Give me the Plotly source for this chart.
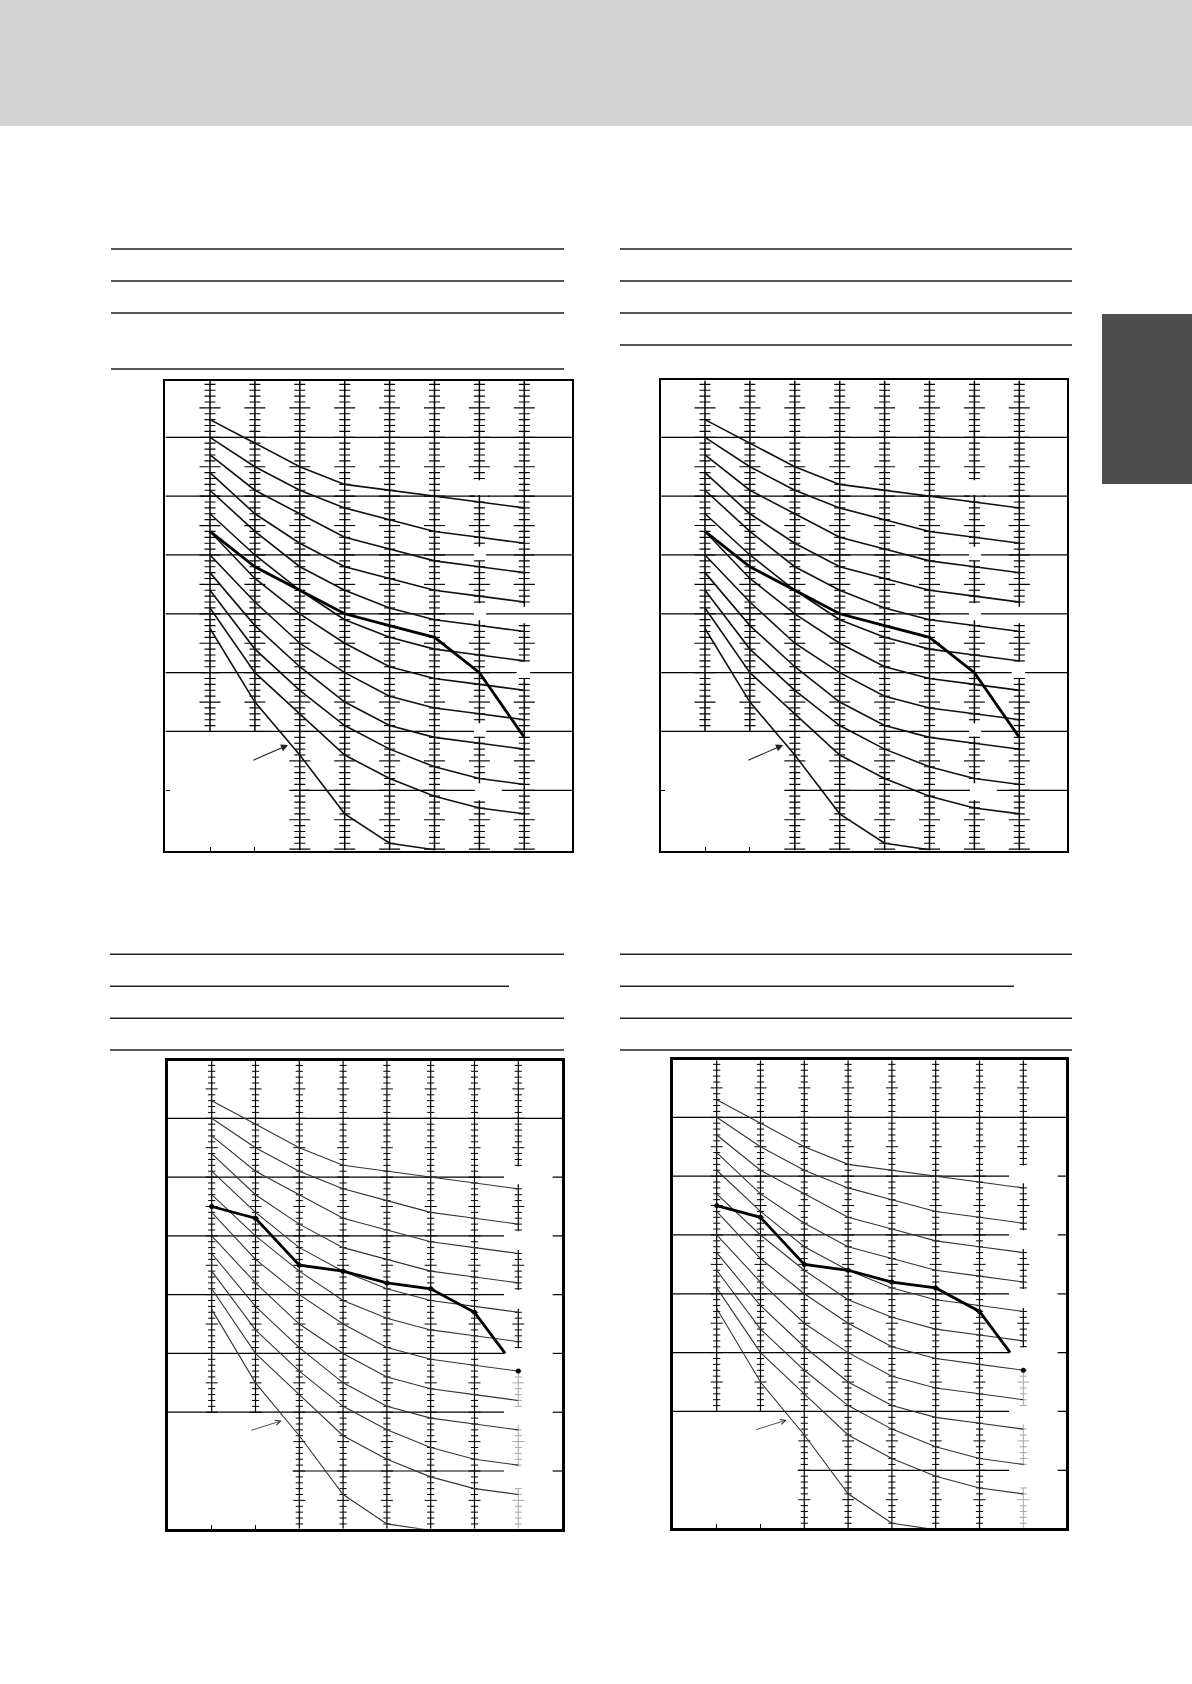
import math
import plotly.graph_objects as go

W, H = 1192, 1684

# ---------------- data ----------------
BAND_LABELS = ["63", "125", "250", "500", "1000", "2000", "4000", "8000"]   # octave band centre (Hz)
BAND_POS = [1, 2, 3, 4, 5, 6, 7, 8]

NC70 = [83, 79, 75, 72, 71, 70, 69, 68]
NC65 = [80, 75, 71, 68, 66, 64, 63, 62]
NC60 = [77, 71, 67, 63, 61, 59, 58, 57]
NC55 = [74, 67, 62, 58, 56, 54, 53, 52]
NC50 = [71, 64, 58, 54, 51, 49, 48, 47]
NC45 = [67, 60, 54, 49, 46, 44, 43, 42]
NC40 = [64, 56, 50, 45, 41, 39, 38, 37]
NC35 = [60, 52, 45, 40, 36, 34, 33, 32]
NC30 = [57, 48, 41, 35, 31, 29, 28, 27]
NC25 = [54, 44, 37, 31, 27, 24, 22, 21]
NC20 = [51, 40, 33, 26, 22, 19, 17, 16]
NC_CURVES = [NC70, NC65, NC60, NC55, NC50, NC45, NC40, NC35, NC30, NC25, NC20]

THRESHOLD = [47.5, 35, 26, 16, 11, 9.9]          # hearing threshold (63 Hz .. 2 kHz)
MEASURED_UPPER = [64, 58, 54, 50, 48, 46, 40, 29]  # thick curve, upper charts
MEASURED_LOWER = [65, 63, 55, 54, 52, 51, 47, 37]  # thick curve, lower charts

GRID_DB = [20, 30, 40, 50, 60, 70, 80]

# ---------------- geometry / styles (pixels of the page) ----------------
PANELS = [
    dict(frame=(164.3, 573.0, 379.5, 851.7), c1=210.0, c8=524.3, g80=437.3, g20=790.3, style="A"),
    dict(frame=(660.0, 1068.3, 379.3, 851.7), c1=705.0, c8=1019.3, g80=437.3, g20=790.3, style="A"),
    dict(frame=(166.7, 563.3, 1059.3, 1530.0), c1=211.7, c8=518.3, g80=1118.3, g20=1471.0, style="B"),
    dict(frame=(671.7, 1067.5, 1059.0, 1529.5), c1=716.7, c8=1023.3, g80=1117.3, g20=1470.3, style="B"),
]

STYLES = {
    "A": dict(frame_w=2.2, grid_w=1.2, ladder_w=1.5, tick_w=1.15, short=5.5, long=10.5,
              curve_w=1.6, curve_c="#111111", thick_w=2.8, markers=False,
              grid_gaps={70: [(6.90, 7.20)], 60: [(6.88, 7.15)], 50: [(6.88, 7.15)],
                         40: [(7.83, 8.13)], 30: [(6.88, 7.15)], 20: [(6.90, 7.50)]},
              grid20_start=2.855,
              ladder_gaps={7: [(70.2, 72.7), (59.0, 61.4), (48.9, 51.8), (29.1, 31.4), (18.3, 21.2)],
                           8: [(39.0, 41.9), (48.4, 51.2)]},
              faded_below=None, yticks=[20],
              arrow=((1.93, 25.0), (2.74, 27.7)), arrowhead=2, arrow_w=1.1),
    "B": dict(frame_w=2.6, grid_w=1.2, ladder_w=1.2, tick_w=1.0, short=3.6, long=6.0,
              curve_w=1.1, curve_c="#333333", thick_w=2.8, markers=True,
              grid_gaps={g: [(7.674, 8.785)] for g in [20, 30, 40, 50, 60, 70]},
              grid20_start=2.85,
              ladder_gaps={8: [(68.8, 71.8), (57.6, 60.8), (47.6, 50.8), (37.2, 40.9),
                               (27.8, 31.0), (17.0, 20.7)]},
              faded_below=37.3, yticks=[],
              arrow=((1.874, 26.85), (2.598, 28.55)), arrowhead=5, arrow_w=0.8),
}

LEFT_RULES = [249, 281, 313, 369]
RIGHT_RULES = [249, 281, 313, 345]
LOWER_RULES = [954.3, 986.3, 1018.3, 1050.0]


def subtract(lo, hi, gaps):
    out = []
    cur = lo
    for a, b in sorted(gaps):
        if b <= cur or a >= hi:
            continue
        if a > cur:
            out.append((cur, a))
        cur = max(cur, b)
    if cur < hi:
        out.append((cur, hi))
    return out


fig = go.Figure()
shapes = []
annotations = []

for i, p in enumerate(PANELS):
    st = STYLES[p["style"]]
    n = "" if i == 0 else str(i + 1)
    xa, ya = "x" + n, "y" + n
    left, right, top, bottom = p["frame"]
    fw = st["frame_w"]
    il, ir, it, ib = left + fw / 2, right - fw / 2, top + fw / 2, bottom - fw / 2
    ppc = (p["c8"] - p["c1"]) / 7.0
    ppd = (p["g20"] - p["g80"]) / 60.0
    xr = [1 + (il - p["c1"]) / ppc, 1 + (ir - p["c1"]) / ppc]
    yr = [80 - (ib - p["g80"]) / ppd, 80 + (p["g80"] - it) / ppd]

    fig.layout["xaxis" + n] = dict(
        domain=[il / W, ir / W], range=xr, showgrid=False, zeroline=False,
        showline=True, linecolor="black", linewidth=fw, mirror=True,
        ticks="inside", tickvals=[1, 2], ticklen=4, tickwidth=1.1, tickcolor="black",
        showticklabels=False, fixedrange=True, anchor=ya)
    fig.layout["yaxis" + n] = dict(
        domain=[1 - ib / H, 1 - it / H], range=yr, showgrid=False, zeroline=False,
        showline=True, linecolor="black", linewidth=fw, mirror=True,
        ticks="inside" if st["yticks"] else "", tickvals=st["yticks"], ticklen=4,
        tickwidth=1.1, tickcolor="black", showticklabels=False, fixedrange=True, anchor=xa)

    # horizontal grid lines (with the gaps of the original print)
    gx, gy = [], []
    for g in GRID_DB:
        start = st["grid20_start"] if g == 20 else xr[0]
        for a, b in subtract(start, xr[1], st["grid_gaps"].get(g, [])):
            gx += [a, b, None]
            gy += [g, g, None]
    fig.add_trace(go.Scatter(x=gx, y=gy, mode="lines", xaxis=xa, yaxis=ya,
                             line=dict(color="black", width=st["grid_w"]), hoverinfo="skip"))

    # tick ladders on each octave band
    vx, vy, tx_, ty_, fx, fy = [], [], [], [], [], []
    for c in BAND_POS:
        lo = 30 if c <= 2 else yr[0]
        for a, b in subtract(lo, yr[1], st["ladder_gaps"].get(c, [])):
            faded = st["faded_below"] is not None and b <= st["faded_below"]
            if faded:
                VX, VY, TX, TY = fx, fy, fx, fy
            else:
                VX, VY, TX, TY = vx, vy, tx_, ty_
            VX += [c, c, None]
            VY += [a, b, None]
            for d in range(math.ceil(a), math.floor(b) + 1):
                half = (st["long"] if d % 5 == 0 else st["short"]) / ppc
                TX += [c - half, c + half, None]
                TY += [d, d, None]
    fig.add_trace(go.Scatter(x=vx, y=vy, mode="lines", xaxis=xa, yaxis=ya,
                             line=dict(color="black", width=st["ladder_w"]), hoverinfo="skip"))
    fig.add_trace(go.Scatter(x=tx_, y=ty_, mode="lines", xaxis=xa, yaxis=ya,
                             line=dict(color="black", width=st["tick_w"]), hoverinfo="skip"))
    if fx:
        fig.add_trace(go.Scatter(x=fx, y=fy, mode="lines", xaxis=xa, yaxis=ya,
                                 line=dict(color="#a8a8a8", width=st["tick_w"]), hoverinfo="skip"))

    # NC curves
    for curve in NC_CURVES:
        fig.add_trace(go.Scatter(x=BAND_POS, y=curve, mode="lines", xaxis=xa, yaxis=ya,
                                 line=dict(color=st["curve_c"], width=st["curve_w"]),
                                 hoverinfo="skip"))
    fig.add_trace(go.Scatter(x=BAND_POS[:len(THRESHOLD)], y=THRESHOLD, mode="lines",
                             xaxis=xa, yaxis=ya,
                             line=dict(color=st["curve_c"], width=st["curve_w"]), hoverinfo="skip"))

    # measured spectrum (thick)
    meas = MEASURED_UPPER if p["style"] == "A" else MEASURED_LOWER
    if st["markers"]:
        # line stops where the 40 dB grid line is interrupted
        y7, y8 = meas[6], meas[7]
        t = (y7 - 40) / (y7 - y8)
        mx = BAND_POS[:7] + [BAND_POS[6] + t]
        my = meas[:7] + [40]
        fig.add_trace(go.Scatter(x=mx, y=my, mode="lines", xaxis=xa, yaxis=ya,
                                 line=dict(color="black", width=st["thick_w"]), hoverinfo="skip"))
        fig.add_trace(go.Scatter(x=BAND_POS, y=meas, mode="markers", xaxis=xa, yaxis=ya,
                                 marker=dict(color="black", size=5), hoverinfo="skip"))
    else:
        fig.add_trace(go.Scatter(x=BAND_POS, y=meas, mode="lines", xaxis=xa, yaxis=ya,
                                 line=dict(color="black", width=st["thick_w"]), hoverinfo="skip"))

    (ax0, ay0), (hx, hy) = st["arrow"]
    annotations.append(dict(x=hx, y=hy, ax=ax0, ay=ay0, xref=xa, yref=ya, axref=xa, ayref=ya,
                            text="", showarrow=True, arrowhead=st["arrowhead"], arrowsize=1.3,
                            arrowwidth=st["arrow_w"], arrowcolor="#222222"))

# page decorations: header band, side tab, rules above the charts
shapes.append(dict(type="rect", xref="paper", yref="paper", x0=0, x1=1, y0=1 - 126 / H, y1=1,
                   fillcolor="#d3d3d3", line=dict(width=0), layer="below"))
shapes.append(dict(type="rect", xref="paper", yref="paper", x0=1102 / W, x1=1, y0=1 - 484 / H,
                   y1=1 - 314 / H, fillcolor="#4f4e4f", line=dict(width=0), layer="below"))


def rule(x0, x1, y):
    return dict(type="line", xref="paper", yref="paper", x0=x0 / W, x1=x1 / W,
                y0=1 - y / H, y1=1 - y / H, line=dict(color="#222222", width=1.6))


for y in LEFT_RULES:
    shapes.append(rule(111, 564, y))
for y in RIGHT_RULES:
    shapes.append(rule(620, 1072, y))
for k, y in enumerate(LOWER_RULES):
    shapes.append(rule(110, 509 if k == 1 else 564, y))
    shapes.append(rule(620, 1014 if k == 1 else 1072, y))

fig.update_layout(width=W, height=H, margin=dict(l=0, r=0, t=0, b=0),
                  paper_bgcolor="white", plot_bgcolor="white", showlegend=False,
                  shapes=shapes, annotations=annotations)

fig.write_html("out.html", config={"displayModeBar": False},
               post_script="document.body.style.margin='0';document.body.style.overflow='hidden';")
